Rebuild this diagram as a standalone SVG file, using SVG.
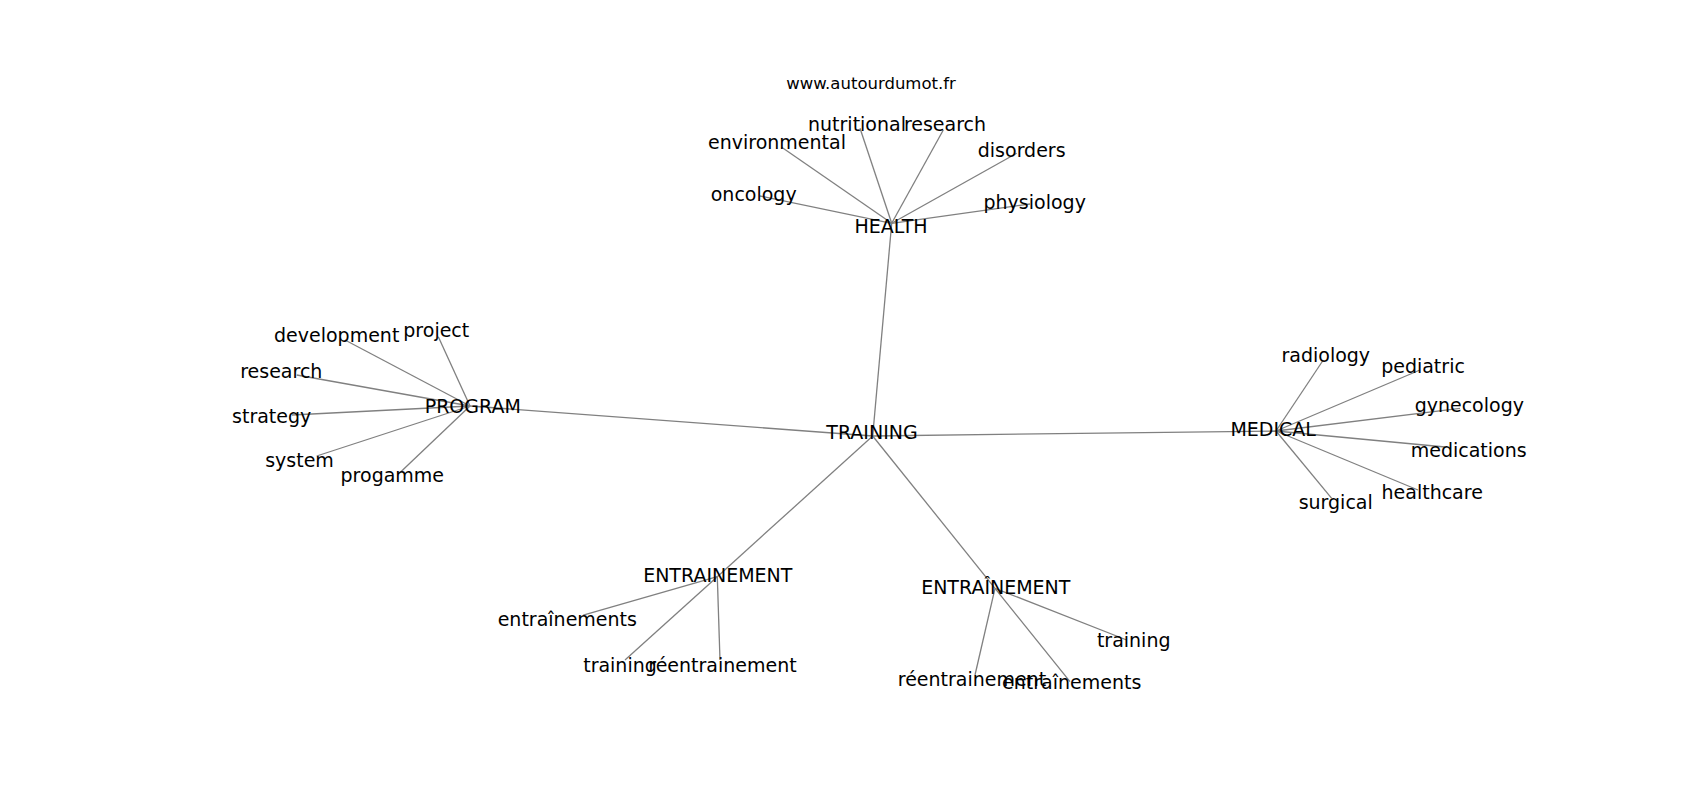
<svg xmlns="http://www.w3.org/2000/svg" width="1700" height="800" viewBox="0 0 1700 800">
<style>
text{font-family:"DejaVu Sans","Liberation Sans",sans-serif;font-size:19px;fill:#000;text-anchor:middle}
.title{font-size:16.5px}
#edges line{stroke:#808080;stroke-width:1.3}
</style>
<rect width="1700" height="800" fill="#fff"/>
<g id="edges">
<line x1="872.7" y1="436" x2="891.7" y2="223.3"/>
<line x1="872.7" y1="436" x2="470" y2="406"/>
<line x1="872.7" y1="436" x2="1276" y2="431"/>
<line x1="872.7" y1="436" x2="717.3" y2="576.7"/>
<line x1="872.7" y1="436" x2="995" y2="588.3"/>
<line x1="891.7" y1="223.3" x2="860" y2="128.3"/>
<line x1="891.7" y1="223.3" x2="943.3" y2="130"/>
<line x1="891.7" y1="223.3" x2="781.7" y2="147.3"/>
<line x1="891.7" y1="223.3" x2="1016.7" y2="153.3"/>
<line x1="891.7" y1="223.3" x2="760" y2="196"/>
<line x1="891.7" y1="223.3" x2="1030" y2="204"/>
<line x1="470" y1="406" x2="345" y2="340"/>
<line x1="470" y1="406" x2="438.3" y2="336.7"/>
<line x1="470" y1="406" x2="296.7" y2="375"/>
<line x1="470" y1="406" x2="292" y2="415"/>
<line x1="470" y1="406" x2="316.7" y2="456"/>
<line x1="470" y1="406" x2="399.3" y2="473.3"/>
<line x1="1276" y1="431" x2="1323.3" y2="360"/>
<line x1="1276" y1="431" x2="1420" y2="370"/>
<line x1="1276" y1="431" x2="1460" y2="408.3"/>
<line x1="1276" y1="431" x2="1445" y2="447"/>
<line x1="1276" y1="431" x2="1418" y2="490"/>
<line x1="1276" y1="431" x2="1331.7" y2="498.3"/>
<line x1="717.3" y1="576.7" x2="583.3" y2="615"/>
<line x1="717.3" y1="576.7" x2="625" y2="660"/>
<line x1="717.3" y1="576.7" x2="720" y2="660"/>
<line x1="995" y1="588.3" x2="1126.7" y2="640"/>
<line x1="995" y1="588.3" x2="975" y2="675"/>
<line x1="995" y1="588.3" x2="1070" y2="681.7"/>
</g>
<text class="title" x="871" y="88.5">www.autourdumot.fr</text>
<g id="n-training"><text x="872" y="439.3">TRAINING</text></g>
<g id="n-health"><text x="891" y="233">HEALTH</text></g>
<g id="n-nutritional"><text x="857" y="130.7">nutritional</text></g>
<g id="n-research-h"><text x="945" y="130.7">research</text></g>
<g id="n-environmental"><text x="777" y="149.3">environmental</text></g>
<g id="n-disorders"><text x="1021.7" y="156.7">disorders</text></g>
<g id="n-oncology"><text x="753.7" y="201">oncology</text></g>
<g id="n-physiology"><text x="1034.7" y="209">physiology</text></g>
<g id="n-program"><text x="472.8" y="413.3">PROGRAM</text></g>
<g id="n-development"><text x="336.7" y="341.7">development</text></g>
<g id="n-project"><text x="436.3" y="337.3">project</text></g>
<g id="n-research-p"><text x="281.3" y="378.3">research</text></g>
<g id="n-strategy"><text x="271.7" y="422.7">strategy</text></g>
<g id="n-system"><text x="299.5" y="466.7">system</text></g>
<g id="n-progamme"><text x="392.3" y="481.7">progamme</text></g>
<g id="n-medical"><text x="1273.2" y="436">MEDICAL</text></g>
<g id="n-radiology"><text x="1325.8" y="361.7">radiology</text></g>
<g id="n-pediatric"><text x="1423" y="372.7">pediatric</text></g>
<g id="n-gynecology"><text x="1469.3" y="411.7">gynecology</text></g>
<g id="n-medications"><text x="1468.7" y="456.7">medications</text></g>
<g id="n-healthcare"><text x="1432.2" y="499.3">healthcare</text></g>
<g id="n-surgical"><text x="1335.7" y="509.3">surgical</text></g>
<g id="n-entrainement"><text x="717.8" y="582.3">ENTRAINEMENT</text></g>
<g id="n-entrainements-1"><text x="567.3" y="626">entraînements</text></g>
<g id="n-training-1"><text x="620" y="671.7">training</text></g>
<g id="n-reentrainement-1"><text x="722.5" y="672.3">réentrainement</text></g>
<g id="n-entrainement-circ"><text x="995.8" y="594.3">ENTRAÎNEMENT</text></g>
<g id="n-training-2"><text x="1133.7" y="647.3">training</text></g>
<g id="n-reentrainement-2"><text x="972" y="686">réentrainement</text></g>
<g id="n-entrainements-2"><text x="1071.7" y="689.3">entraînements</text></g>
</svg>
